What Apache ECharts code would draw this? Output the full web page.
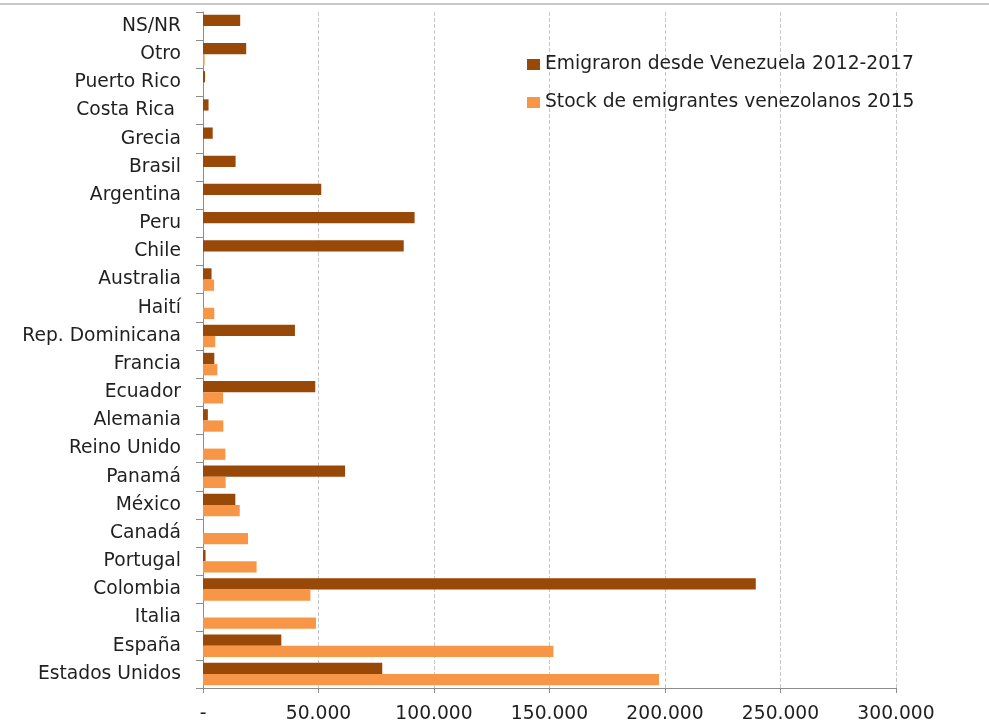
<!DOCTYPE html>
<html>
<head>
<meta charset="utf-8">
<script src="https://cdn.jsdelivr.net/npm/echarts@6/dist/echarts.min.js"></script>
<style>html,body{margin:0;padding:0;background:#fff}#c{width:989px;height:724px}</style>
</head>
<body>
<div id="c"></div>
<script>
const categories = ["Estados Unidos","España","Italia","Colombia","Portugal","Canadá","México","Panamá","Reino Unido","Alemania","Ecuador","Francia","Rep. Dominicana","Haití","Australia","Chile","Peru","Argentina","Brasil","Grecia","Costa Rica ","Puerto Rico","Otro","NS/NR"];
const emigraron = [77600,33900,null,239300,1100,null,14000,61500,null,2100,48600,4900,39800,null,3700,86900,91600,51200,14100,4200,2400,900,18700,16100];
const stock = [197400,151700,48900,46500,23200,19500,15900,9800,9700,8800,8700,6200,5300,4900,4800,null,null,null,null,null,null,null,700,null];
const xTicks = [0,50000,100000,150000,200000,250000,300000];
const seriesNames = ["Emigraron desde Venezuela 2012-2017","Stock de emigrantes venezolanos 2015"];

const chart = echarts.init(document.getElementById('c'));
const font = "'DejaVu Sans', sans-serif";
const fs = 18.7;
chart.setOption({
  animation:false,
  textStyle:{fontFamily:font},
  graphic:[{type:'line',shape:{x1:0,y1:4,x2:989,y2:4},style:{stroke:'#c8c8c8',lineWidth:2}}],
  legend:{
    orient:'vertical', left:522, top:50, itemWidth:13, itemHeight:11, itemGap:19,
    icon:'rect',
    textStyle:{fontSize:fs, color:'#1f1f1f', fontFamily:font},
    data:seriesNames
  },
  grid:{left:203, right:93, top:12, bottom:35, containLabel:false},
  xAxis:{
    type:'value', min:0, max:300000, interval:50000,
    axisLine:{show:true, lineStyle:{color:'#8c8c8c'}},
    axisTick:{show:true, length:5, lineStyle:{color:'#8c8c8c'}},
    splitLine:{show:true, lineStyle:{color:'#c8c8c8', type:'dashed'}},
    axisLabel:{fontSize:fs, color:'#1f1f1f', margin:17,
      formatter:v => v===0 ? '-' : (v/1000).toFixed(0)+'.000'}
  },
  yAxis:{
    type:'category', data:categories,
    axisLine:{show:true, lineStyle:{color:'#8c8c8c'}},
    axisTick:{show:true, length:7, lineStyle:{color:'#8c8c8c'}},
    axisLabel:{fontSize:fs, color:'#1f1f1f', margin:22, padding:[3,0,0,0]}
  },
  series:[
    {name:seriesNames[0], type:'bar', data:emigraron, itemStyle:{color:'#984807'}, barGap:'0%', barCategoryGap:'20%'},
    {name:seriesNames[1], type:'bar', data:stock, itemStyle:{color:'#F79646'}, barGap:'0%', barCategoryGap:'20%'}
  ]
});
</script>
</body>
</html>
